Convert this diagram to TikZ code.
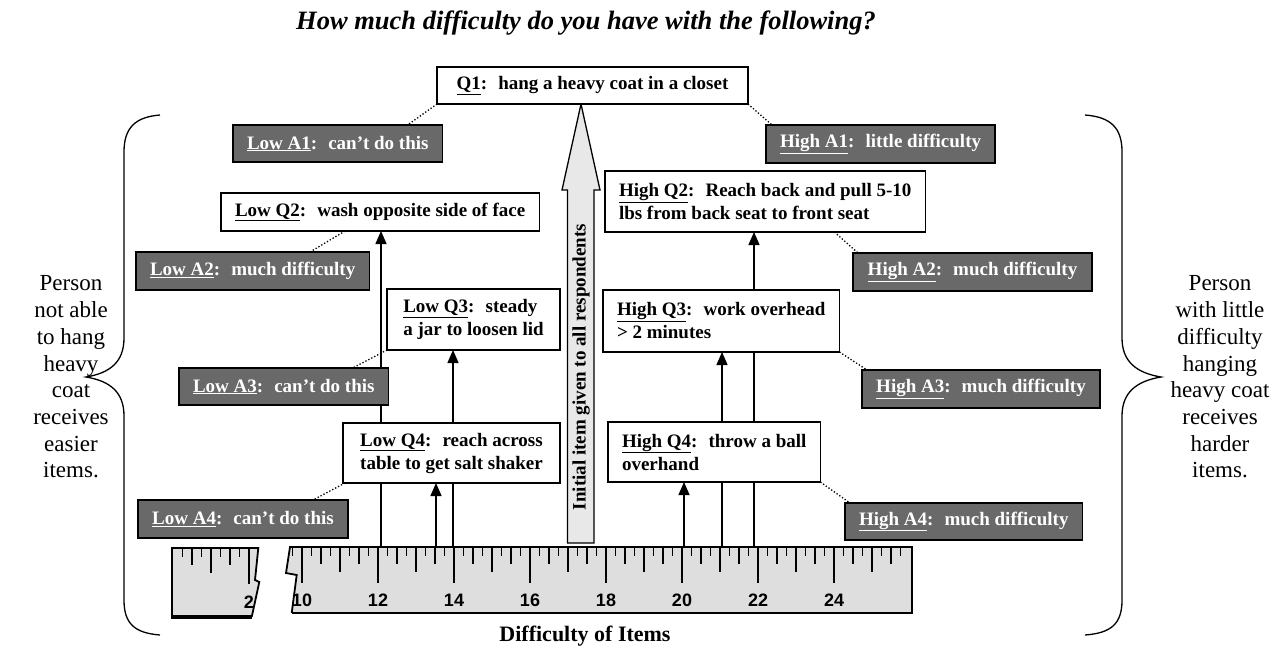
\documentclass[tikz,border=0pt]{standalone}
\usepackage{fontspec}
\setmainfont{Liberation Serif}
\newfontfamily\rulerfont{Liberation Sans}
\usetikzlibrary{arrows.meta}
\definecolor{boxgray}{RGB}{105,105,105}
\definecolor{rulergray}{RGB}{222,222,222}
\definecolor{arrowgray}{RGB}{232,232,232}
\begin{document}
\begin{tikzpicture}[x=1pt,y=-1pt,
  qbox/.style={draw, line width=1.3pt, fill=white, font=\bfseries\fontsize{19}{23}\selectfont,
    align=left, inner xsep=14pt, inner ysep=4pt, anchor=north west, outer sep=0pt},
  abox/.style={qbox, fill=boxgray, text=white},
  uparrow/.style={line width=1.3pt, -{Triangle[length=13pt,width=11pt]}},
  dotline/.style={line width=1.3pt, dotted},
  tickline/.style={line width=1.3pt},
  sidetext/.style={align=center, font=\fontsize{23}{26.7}\selectfont},
  bracestyle/.style={line width=1.3pt},
  numlabel/.style={font=\rulerfont\bfseries\fontsize{18}{18}\selectfont, inner sep=0pt}
]
\useasboundingbox (0,0) rectangle (1281,649);

% title
\node[font=\bfseries\itshape\fontsize{26.5}{30}\selectfont] (title) at (586,23) {How much difficulty do you have with the following?};

% braces
\draw[bracestyle] (160,115) .. controls (135,117) and (124,128) .. (124,152) -- (124,338)
  .. controls (124,362) and (110,373) .. (86,377) .. controls (110,381) and (124,392) .. (124,416)
  -- (124,600) .. controls (124,624) and (135,633) .. (160,635);
\draw[bracestyle] (1085,115) .. controls (1111,117) and (1122,128) .. (1122,152) -- (1122,338)
  .. controls (1122,362) and (1137,373) .. (1161,377) .. controls (1137,381) and (1122,392) .. (1122,416)
  -- (1122,600) .. controls (1122,624) and (1111,633) .. (1085,635);

\node[sidetext] (lefttext) at (71,377) {Person\\not able\\to hang\\heavy\\coat\\receives\\easier\\items.};
\node[sidetext] (righttext) at (1220,377) {Person\\with little\\difficulty\\hanging\\heavy coat\\receives\\harder\\items.};

% ruler
\fill[rulergray] (172,548) -- (258.3,548) -- (255,580) -- (259.3,582) -- (251.7,617) -- (172,617) -- cycle;
\fill[rulergray] (290,547) -- (912,547) -- (912,613) -- (291.7,613) -- (296.7,575) -- (286,573) -- cycle;
\foreach \n in {1,...,8} {
  \pgfmathsetmacro\xx{249+(\n-8)*9.5}
  \pgfmathsetmacro\len{mod(\n,8)==0 ? 36 : (mod(\n,4)==0 ? 25 : (mod(\n,2)==0 ? 17 : 9))}
  \draw[tickline] (\xx,548) -- ++(0,\len);
}
\foreach \n in {39,...,103} {
  \pgfmathsetmacro\xx{302+(\n-40)*9.5}
  \pgfmathsetmacro\len{mod(\n,8)==0 ? 36 : (mod(\n,4)==0 ? 25 : (mod(\n,2)==0 ? 17 : 9))}
  \draw[tickline] (\xx,547) -- ++(0,\len);
}
\draw[line width=1.8pt] (172,617) -- (172,548) -- (258.3,548) -- (255,580) -- (259.3,582) -- (251.7,617);
\draw[line width=3.2pt] (171,617) -- (252,617);
\draw[line width=1.8pt] (291.7,613) -- (296.7,575) -- (286,573) -- (290,547) -- (912,547) -- (912,613);
\draw[line width=2.6pt] (291.7,613) -- (913,613);
\node[numlabel] (n2) at (249,602) {2};
\foreach \u in {10,12,...,24} {
  \pgfmathsetmacro\xx{302+(\u-10)*38}
  \node[numlabel] (n\u) at (\xx,600) {\u};
}

% big arrow
\draw[line width=1.3pt, fill=arrowgray] (567.5,543) -- (567.5,190) -- (562,190) -- (581,104) -- (600,190) -- (594,190) -- (594,543) -- cycle;
\node[rotate=90, font=\bfseries\fontsize{19}{23}\selectfont] (initial) at (581,367) {Initial item given to all respondents};

% ruler anchor points
\coordinate (rq2) at (381,547);
\coordinate (rq3) at (453,547);
\coordinate (rq4) at (436,547);
\coordinate (rh2) at (754,547);
\coordinate (rh3) at (722,547);
\coordinate (rh4) at (684,547);

% top boxes
\node[qbox, minimum width=311pt, minimum height=37pt] (q1) at (437,67) {\underline{Q1}:~ hang a heavy coat in a closet};
\node[abox, minimum width=207pt, minimum height=37pt] (la1) at (233,125) {\underline{Low A1}:~ can’t do this};
\node[abox, minimum width=229pt, minimum height=38pt] (ha1) at (766,125) {\underline{High A1}:~ little difficulty};

% vertical arrows (behind boxes)
\coordinate (lq2b) at (381,231);
\coordinate (lq3b) at (453,350);
\coordinate (lq4b) at (436,483);
\coordinate (hq2b) at (754,232);
\coordinate (hq3b) at (722,352);
\coordinate (hq4b) at (684,482);
\draw[uparrow] (rq2) -- (lq2b);
\draw[uparrow] (rq3) -- (lq3b);
\draw[uparrow] (rq4) -- (lq4b);
\draw[uparrow] (rh2) -- (hq2b);
\draw[uparrow] (rh3) -- (hq3b);
\draw[uparrow] (rh4) -- (hq4b);

\node[qbox, minimum width=318pt, minimum height=38pt] (lq2) at (221,193) {\underline{Low Q2}:~ wash opposite side of face};
\node[abox, minimum width=233pt, minimum height=38pt] (la2) at (136,252) {\underline{Low A2}:~ much difficulty};
\node[qbox, minimum width=173pt, minimum height=61pt] (lq3) at (387,289) {\underline{Low Q3}:~ steady\\a jar to loosen lid};
\node[abox, minimum width=209pt, minimum height=37pt] (la3) at (179,368) {\underline{Low A3}:~ can’t do this};
\node[qbox, minimum width=217pt, minimum height=60pt] (lq4) at (343,423) {\underline{Low Q4}:~ reach across\\table to get salt shaker};
\node[abox, minimum width=210pt, minimum height=38pt] (la4) at (138,500) {\underline{Low A4}:~ can’t do this};

\node[qbox, minimum width=311pt, minimum height=61pt] (hq2) at (605,171) {\underline{High Q2}:~ Reach back and pull 5-10\\lbs from back seat to front seat};
\node[abox, minimum width=239pt, minimum height=38pt] (ha2) at (853,253) {\underline{High A2}:~ much difficulty};
\node[qbox, minimum width=232pt, minimum height=62pt] (hq3) at (603,290) {\underline{High Q3}:~ work overhead\\> 2 minutes\hphantom{ork overhead}};
\node[abox, minimum width=238pt, minimum height=38pt] (ha3) at (862,370) {\underline{High A3}:~ much difficulty};
\node[qbox, minimum width=208pt, minimum height=60pt] (hq4) at (608,422) {\underline{High Q4}:~ throw a ball\\overhand};
\node[abox, minimum width=228pt, minimum height=37pt] (ha4) at (845,503) {\underline{High A4}:~ much difficulty};

% dotted connectors
\draw[dotline] (q1.south west) -- ([xshift=-35pt]la1.north east);
\draw[dotline] (q1.south east) -- ([xshift=6pt]ha1.north west);
\draw[dotline] ([xshift=124pt]lq2.south west) -- ([xshift=174pt]la2.north west);
\draw[dotline] (lq3.south west) -- ([xshift=-36pt]la3.north east);
\draw[dotline] ([xshift=2pt]lq4.south west) -- ([xshift=-35pt]la4.north east);
\draw[dotline] ([xshift=-91pt]hq2.south east) -- ([xshift=5pt]ha2.north west);
\draw[dotline] (hq3.south east) -- ([xshift=5pt]ha3.north west);
\draw[dotline] (hq4.south east) -- ([xshift=5pt]ha4.north west);

% bottom label
\node[font=\bfseries\fontsize{22}{26}\selectfont] (xlabel) at (585,636) {Difficulty of Items};
\end{tikzpicture}
\end{document}
